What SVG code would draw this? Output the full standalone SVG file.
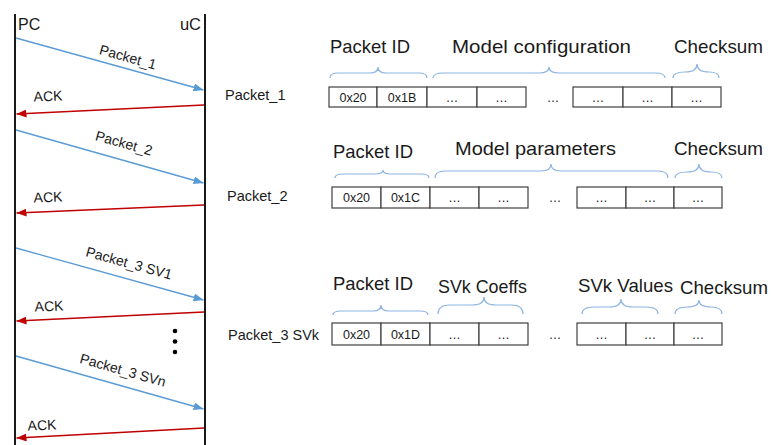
<svg xmlns="http://www.w3.org/2000/svg" width="771" height="445" viewBox="0 0 771 445">
<defs>
<marker id="ab" viewBox="0 0 10 8" refX="10" refY="4" markerWidth="10" markerHeight="8" markerUnits="userSpaceOnUse" orient="auto"><path d="M0,0 L10,4 L0,8 z" fill="#5B9BD5"/></marker>
<marker id="ar" viewBox="0 0 10 8" refX="10" refY="4" markerWidth="10" markerHeight="8" markerUnits="userSpaceOnUse" orient="auto"><path d="M0,0 L10,4 L0,8 z" fill="#C00000"/></marker>
</defs>
<style>
text{font-family:"Liberation Sans",Arial,sans-serif;fill:#1a1a1a}
.life{stroke:#1a1a1a;stroke-width:2}
.msg{stroke:#5B9BD5;stroke-width:1.3;fill:none;marker-end:url(#ab)}
.ack{stroke:#C00000;stroke-width:1.3;fill:none;marker-end:url(#ar)}
.lbl{font-size:14px;text-anchor:middle}
.row{font-size:14.5px}
.hd{font-size:19px}
.cell{fill:#fff;stroke:#404040;stroke-width:1.2}
.ct{font-size:12.5px;text-anchor:middle}
.br{fill:none;stroke:#8DB4E2;stroke-width:1.2}
</style>
<rect width="771" height="445" fill="#fff"/>
<g id="pc">
<line class="life" x1="15" y1="14" x2="15" y2="445"/>
<text x="18" y="30" font-size="16">PC</text>
</g>
<g id="uc">
<line class="life" x1="205" y1="14" x2="205" y2="445"/>
<text x="201" y="30" font-size="16.5" text-anchor="end">uC</text>
</g>
<g id="connectors">
<line class="msg" x1="16" y1="38" x2="203.5" y2="90"/>
<line class="ack" x1="204" y1="105" x2="16.5" y2="114"/>
<line class="msg" x1="16" y1="130" x2="203.5" y2="183"/>
<line class="ack" x1="204" y1="205" x2="16.5" y2="213"/>
<line class="msg" x1="16" y1="248" x2="203.5" y2="300"/>
<line class="ack" x1="204" y1="312" x2="16.5" y2="321"/>
<line class="msg" x1="16" y1="356" x2="203.5" y2="409"/>
<line class="ack" x1="204" y1="428" x2="16.5" y2="438"/>
</g>
<g id="msg-labels">
<text class="lbl" transform="rotate(15.5 128 57)" x="128" y="62">Packet_1</text>
<text class="lbl" transform="rotate(-2.5 48 96)" x="48" y="101">ACK</text>
<text class="lbl" transform="rotate(15.7 124 143)" x="124" y="148">Packet_2</text>
<text class="lbl" transform="rotate(-2.5 48 197)" x="48" y="202">ACK</text>
<text class="lbl" transform="rotate(15.5 129 263)" x="129" y="268">Packet_3 SV1</text>
<text class="lbl" transform="rotate(-2.5 49 306)" x="49" y="311">ACK</text>
<text class="lbl" transform="rotate(15.7 123 370)" x="123" y="375">Packet_3 SVn</text>
<text class="lbl" transform="rotate(-2.5 42 425)" x="42" y="430">ACK</text>
<circle cx="175" cy="331" r="2.3" fill="#000"/>
<circle cx="175" cy="341.5" r="2.3" fill="#000"/>
<circle cx="175" cy="352" r="2.3" fill="#000"/>
</g>
<g id="packet1">
<text class="row" x="225" y="100">Packet_1</text>
<text class="hd" x="330" y="53" textLength="80" lengthAdjust="spacingAndGlyphs">Packet ID</text>
<text class="hd" x="452" y="53" textLength="179" lengthAdjust="spacingAndGlyphs">Model configuration</text>
<text class="hd" x="674" y="53" textLength="89" lengthAdjust="spacingAndGlyphs">Checksum</text>
<path class="br" d="M330,78 Q330,73 338,73 L370,73 Q378,73 378,67 Q378,73 386,73 L419,73 Q427,73 427,78"/>
<path class="br" d="M433,78 Q433,73 443,73 L539,73 Q549,73 549,67 Q549,73 559,73 L655,73 Q665,73 665,78"/>
<path class="br" d="M673,78 Q673,72 685,72 Q697,72 697,64 Q697,72 709,72 Q719,72 719,78"/>
<rect class="cell" x="329" y="87" width="48" height="20"/>
<rect class="cell" x="377" y="87" width="50" height="20"/>
<rect class="cell" x="427" y="87" width="50" height="20"/>
<rect class="cell" x="477" y="87" width="49" height="20"/>
<rect class="cell" x="573" y="87" width="50" height="20"/>
<rect class="cell" x="623" y="87" width="49" height="20"/>
<rect class="cell" x="672" y="87" width="49" height="20"/>
<text class="ct" x="353" y="101.5">0x20</text>
<text class="ct" x="402" y="101.5">0x1B</text>
<text class="ct" x="452" y="101.5">…</text>
<text class="ct" x="501.5" y="101.5">…</text>
<text class="ct" x="553" y="101.5">…</text>
<text class="ct" x="598" y="101.5">…</text>
<text class="ct" x="647.5" y="101.5">…</text>
<text class="ct" x="696.5" y="101.5">…</text>
</g>
<g id="packet2">
<text class="row" x="227" y="201">Packet_2</text>
<text class="hd" x="333" y="158" textLength="80" lengthAdjust="spacingAndGlyphs">Packet ID</text>
<text class="hd" x="455" y="155" textLength="161" lengthAdjust="spacingAndGlyphs">Model parameters</text>
<text class="hd" x="674" y="155" textLength="89" lengthAdjust="spacingAndGlyphs">Checksum</text>
<path class="br" d="M335,178 Q335,174 343,174 L375,174 Q383,174 383,170 Q383,174 391,174 L421,174 Q429,174 429,178"/>
<path class="br" d="M435,178 Q435,171 445,171 L541,171 Q551,171 551,164 Q551,171 561,171 L658,171 Q668,171 668,178"/>
<path class="br" d="M675,178 Q675,172 687,172 Q699,172 699,164 Q699,172 711,172 Q722,172 722,178"/>
<rect class="cell" x="332" y="187" width="49" height="21"/>
<rect class="cell" x="381" y="187" width="49" height="21"/>
<rect class="cell" x="430" y="187" width="49" height="21"/>
<rect class="cell" x="479" y="187" width="49" height="21"/>
<rect class="cell" x="577" y="187" width="49" height="21"/>
<rect class="cell" x="626" y="187" width="48" height="21"/>
<rect class="cell" x="674" y="187" width="48" height="21"/>
<text class="ct" x="356.5" y="202">0x20</text>
<text class="ct" x="405.5" y="202">0x1C</text>
<text class="ct" x="454.5" y="202">…</text>
<text class="ct" x="503.5" y="202">…</text>
<text class="ct" x="555" y="202">…</text>
<text class="ct" x="601.5" y="202">…</text>
<text class="ct" x="650" y="202">…</text>
<text class="ct" x="698" y="202">…</text>
</g>
<g id="packet3">
<text class="row" x="228" y="340">Packet_3 SVk</text>
<text class="hd" x="333" y="290" textLength="80" lengthAdjust="spacingAndGlyphs">Packet ID</text>
<text class="hd" x="438" y="293" textLength="89" lengthAdjust="spacingAndGlyphs">SVk Coeffs</text>
<text class="hd" x="578" y="292" textLength="95" lengthAdjust="spacingAndGlyphs">SVk Values</text>
<text class="hd" x="680" y="294" textLength="88" lengthAdjust="spacingAndGlyphs">Checksum</text>
<path class="br" d="M333,315 Q333,311 341,311 L373,311 Q381,311 381,305 Q381,311 389,311 L420,311 Q428,311 428,315"/>
<path class="br" d="M438,314 Q438,305 450,305 L472,305 Q484,305 484,297 Q484,305 496,305 L511,305 Q523,305 523,314"/>
<path class="br" d="M582,314 Q582,307 594,307 L609,307 Q621,307 621,299 Q621,307 633,307 L646,307 Q658,307 658,314"/>
<path class="br" d="M675,314 Q675,307 687,307 Q699,307 699,300 Q699,307 711,307 Q722,307 722,314"/>
<rect class="cell" x="332" y="323" width="49" height="22"/>
<rect class="cell" x="381" y="323" width="49" height="22"/>
<rect class="cell" x="430" y="323" width="49" height="22"/>
<rect class="cell" x="479" y="323" width="49" height="22"/>
<rect class="cell" x="577" y="323" width="49" height="22"/>
<rect class="cell" x="626" y="323" width="48" height="22"/>
<rect class="cell" x="674" y="323" width="48" height="22"/>
<text class="ct" x="356.5" y="338.5">0x20</text>
<text class="ct" x="405.5" y="338.5">0x1D</text>
<text class="ct" x="454.5" y="338.5">…</text>
<text class="ct" x="503.5" y="338.5">…</text>
<text class="ct" x="555" y="338.5">…</text>
<text class="ct" x="601.5" y="338.5">…</text>
<text class="ct" x="650" y="338.5">…</text>
<text class="ct" x="698" y="338.5">…</text>
</g>
</svg>
